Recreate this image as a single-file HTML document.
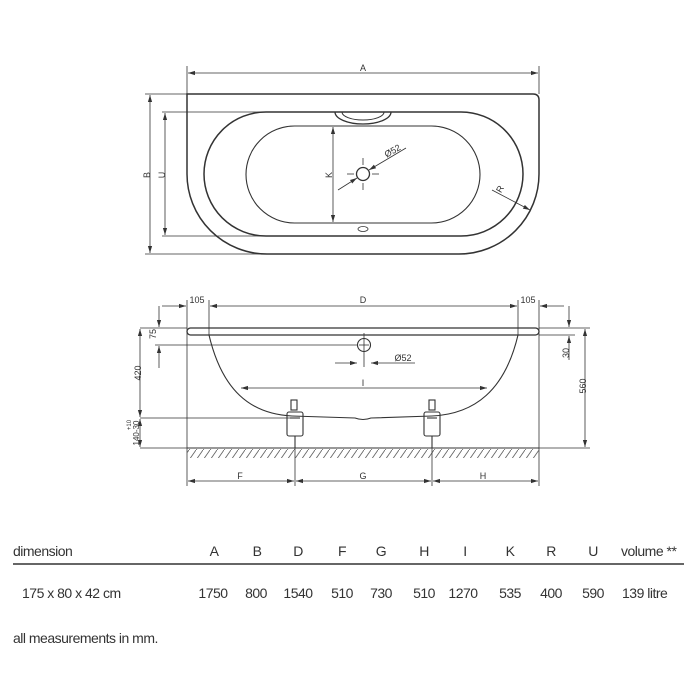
<!DOCTYPE html>
<html><head><meta charset="utf-8"><style>
html,body{margin:0;padding:0;background:#fff;width:700px;height:700px;overflow:hidden}
svg{display:block}
text{font-family:"Liberation Sans",sans-serif;fill:#333}
</style></head><body>
<svg width="700" height="700" viewBox="0 0 700 700" xmlns="http://www.w3.org/2000/svg">
<defs>
<marker id="a" viewBox="0 0 10 10" refX="10" refY="5" markerWidth="7" markerHeight="7" orient="auto-start-reverse" markerUnits="userSpaceOnUse"><path d="M0,2 L10,5 L0,8 z" fill="#333"/></marker>
<pattern id="h" width="7" height="10" patternUnits="userSpaceOnUse"><path d="M0,10 L7,0" stroke="#666" stroke-width="0.9"/></pattern>
</defs>
<g stroke="#333" fill="none" stroke-width="0.8">
<line x1="187" y1="66" x2="187" y2="94"/><line x1="539" y1="66" x2="539" y2="94"/>
<line x1="188" y1="73" x2="538" y2="73" marker-start="url(#a)" marker-end="url(#a)"/>
<path d="M187,94 H533 Q539,94 539,100 V174 A80,80 0 0 1 459,254 H267 A80,80 0 0 1 187,174 Z" stroke-width="1.5"/>
<rect x="204" y="112" width="319" height="124" rx="62" stroke-width="1.5"/>
<rect x="246" y="126" width="234" height="97" rx="48.5" stroke-width="1.1"/>
<path d="M335,112 A28,12 0 0 0 391,112" stroke-width="1.3"/>
<path d="M342,112 A21,8 0 0 0 384,112" stroke-width="1"/>
<circle cx="363" cy="174" r="6.5" stroke-width="1.3"/>
<line x1="347" y1="174" x2="354" y2="174"/><line x1="372" y1="174" x2="379" y2="174"/>
<line x1="363" y1="158" x2="363" y2="165"/><line x1="363" y1="183" x2="363" y2="190"/>
<line x1="338" y1="190" x2="357" y2="178" marker-end="url(#a)"/>
<line x1="406" y1="148" x2="369" y2="170" marker-end="url(#a)"/>
<ellipse cx="363" cy="229" rx="5" ry="2.5"/>
<line x1="333" y1="127" x2="333" y2="222" marker-start="url(#a)" marker-end="url(#a)"/>
<line x1="492" y1="190" x2="530" y2="210" marker-end="url(#a)"/>
<line x1="145" y1="94" x2="187" y2="94"/><line x1="145" y1="254" x2="267" y2="254"/>
<line x1="150" y1="95" x2="150" y2="253" marker-start="url(#a)" marker-end="url(#a)"/>
<line x1="162" y1="112" x2="270" y2="112"/><line x1="162" y1="236" x2="270" y2="236"/>
<line x1="165" y1="113" x2="165" y2="235" marker-start="url(#a)" marker-end="url(#a)"/>
<line x1="187" y1="300" x2="187" y2="486"/><line x1="539" y1="300" x2="539" y2="486"/>
<line x1="209" y1="300" x2="209" y2="335"/><line x1="518" y1="300" x2="518" y2="335"/>
<line x1="162" y1="306" x2="186" y2="306" marker-end="url(#a)"/>
<line x1="210" y1="306" x2="517" y2="306" marker-start="url(#a)" marker-end="url(#a)"/>
<line x1="564" y1="306" x2="540" y2="306" marker-end="url(#a)"/>
<rect x="187" y="328" width="352" height="7" rx="3.5" stroke-width="1.3"/>
<path d="M209,335 C222,390 250,414 292,416 L355,418 Q363,421 371,418 L432,416 C475,414 505,390 518,335" stroke-width="1.1"/>
<line x1="140" y1="328" x2="187" y2="328"/><line x1="539" y1="328" x2="590" y2="328"/>
<line x1="539" y1="335" x2="575" y2="335"/>
<line x1="155" y1="345" x2="357" y2="345"/>
<line x1="140" y1="418" x2="292" y2="418"/>
<line x1="159" y1="306" x2="159" y2="327" marker-end="url(#a)"/>
<line x1="159" y1="368" x2="159" y2="346" marker-end="url(#a)"/>
<line x1="140" y1="329" x2="140" y2="417" marker-start="url(#a)" marker-end="url(#a)"/>
<line x1="140" y1="419" x2="140" y2="447" marker-start="url(#a)" marker-end="url(#a)"/>
<line x1="140" y1="448" x2="187" y2="448"/>
<line x1="569" y1="306" x2="569" y2="327" marker-end="url(#a)"/>
<line x1="569" y1="360" x2="569" y2="336" marker-end="url(#a)"/>
<line x1="585" y1="329" x2="585" y2="447" marker-start="url(#a)" marker-end="url(#a)"/>
<line x1="539" y1="448" x2="590" y2="448"/>
<circle cx="364" cy="345" r="6.5" stroke-width="1.1"/>
<line x1="364" y1="333" x2="364" y2="367"/><line x1="359" y1="345" x2="369" y2="345"/>
<line x1="335" y1="363" x2="357" y2="363" marker-end="url(#a)"/>
<line x1="415" y1="363" x2="371" y2="363" marker-end="url(#a)"/>
<line x1="241" y1="388" x2="487" y2="388" marker-start="url(#a)" marker-end="url(#a)"/>
<rect x="187" y="449" width="352" height="9" fill="url(#h)" stroke="none"/>
<line x1="187" y1="448" x2="539" y2="448" stroke-width="1.1"/>
<g stroke-width="1.1">
<rect x="287" y="412" width="16" height="24" rx="2"/><rect x="291" y="400" width="6" height="10"/><line x1="295" y1="436" x2="295" y2="448"/><line x1="290" y1="418" x2="300" y2="418"/>
<rect x="424" y="412" width="16" height="24" rx="2"/><rect x="429" y="400" width="6" height="10"/><line x1="432" y1="436" x2="432" y2="448"/><line x1="427" y1="418" x2="437" y2="418"/>
</g>
<line x1="295" y1="448" x2="295" y2="486"/><line x1="432" y1="448" x2="432" y2="486"/>
<line x1="188" y1="481" x2="294" y2="481" marker-start="url(#a)" marker-end="url(#a)"/>
<line x1="296" y1="481" x2="431" y2="481" marker-start="url(#a)" marker-end="url(#a)"/>
<line x1="433" y1="481" x2="538" y2="481" marker-start="url(#a)" marker-end="url(#a)"/>
<line x1="13" y1="564" x2="684" y2="564" stroke-width="1.6"/>
</g>
<g font-size="9" text-anchor="middle">
<text x="363" y="71">A</text>
<text x="147" y="178" transform="rotate(-90 147 175)">B</text>
<text x="162" y="178" transform="rotate(-90 162 175)">U</text>
<text x="329" y="178" transform="rotate(-90 329 175)">K</text>
<text x="392" y="154" transform="rotate(-30 392 150)">Ø52</text>
<text x="500" y="192" transform="rotate(-60 500 189)">R</text>
<text x="197" y="303">105</text><text x="363" y="303">D</text><text x="528" y="303">105</text>
<text x="156" y="340" transform="rotate(-90 153 337)">75</text>
<text x="137" y="377" transform="rotate(-90 137 373)">420</text>
<text x="136" y="436" transform="rotate(-90 136 433)" font-size="8">140-30</text>
<text x="128" y="428" transform="rotate(-90 128 425)" font-size="6">+10</text>
<text x="568" y="358" transform="rotate(-90 566 355)">30</text>
<text x="584" y="392" transform="rotate(-90 582 388)">560</text>
<text x="403" y="361">Ø52</text>
<text x="363" y="386">I</text>
<text x="240" y="479">F</text><text x="363" y="479">G</text><text x="483" y="479">H</text>
</g>
<g font-size="14" letter-spacing="-0.5">
<text x="13" y="556">dimension</text>
<g text-anchor="middle">
<text x="214" y="556">A</text><text x="257" y="556">B</text><text x="298" y="556">D</text><text x="342" y="556">F</text><text x="381" y="556">G</text><text x="424" y="556">H</text><text x="465" y="556">I</text><text x="510" y="556">K</text><text x="551" y="556">R</text><text x="593" y="556">U</text>
<text x="213" y="598">1750</text><text x="256" y="598">800</text><text x="298" y="598">1540</text><text x="342" y="598">510</text><text x="381" y="598">730</text><text x="424" y="598">510</text><text x="463" y="598">1270</text><text x="510" y="598">535</text><text x="551" y="598">400</text><text x="593" y="598">590</text>
</g>
<text x="621" y="556">volume **</text>
<text x="22" y="598">175 x 80 x 42 cm</text>
<text x="622" y="598">139 litre</text>
<text x="13" y="643">all measurements in mm.</text>
</g>
</svg>
</body></html>
